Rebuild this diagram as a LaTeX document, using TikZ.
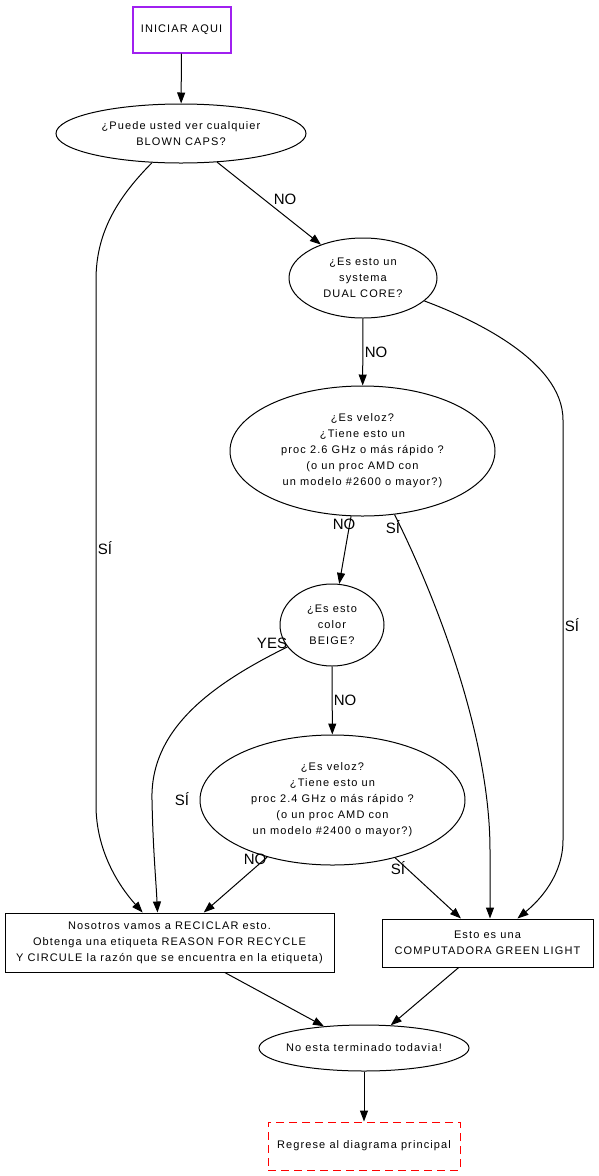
\documentclass[tikz,border=0pt]{standalone}
\usepackage{fontspec}
\setmainfont{Liberation Sans}
\newfontfamily\nodefont[LetterSpace=10]{Liberation Sans}
\usetikzlibrary{shapes.geometric,arrows.meta,positioning}
\definecolor{gvpurple}{HTML}{A020F0}
\definecolor{gvred}{HTML}{FF0000}
\begin{document}
\begin{tikzpicture}[x=1pt,y=-1pt,
  txt/.style={font=\nodefont\fontsize{11}{16}\selectfont,align=center,inner sep=0pt},
  ell/.style={txt,draw,ellipse,line width=1pt},
  box/.style={txt,draw,rectangle,line width=1pt},
  arr/.style={line width=1pt,-{Triangle[length=11pt,width=8pt]}},
  lab/.style={font=\fontsize{15}{16}\selectfont,inner sep=0pt}]
\useasboundingbox (0,0) rectangle (599,1176);
\fill[white] (0,0) rectangle (599,1176);
% nodes
\node[box,draw=gvpurple,line width=2pt,minimum width=98pt,minimum height=46pt] (start) at (181.5,29.5) {INICIAR AQUI};
\node[ell,minimum width=250pt,minimum height=59pt] (e1) at (181,133.5) {¿Puede usted ver cualquier\\BLOWN CAPS?};
\node[ell,minimum width=148pt,minimum height=80pt] (e2) at (363,278) {¿Es esto un\\systema\\DUAL CORE?};
\node[ell,minimum width=265pt,minimum height=130pt] (e3) at (362.5,451) {¿Es veloz?\\¿Tiene esto un\\proc 2.6 GHz o más rápido ?\\(o un proc AMD con\\un modelo \#2600 o mayor?)};
\node[ell,minimum width=104pt,minimum height=82pt] (e4) at (332,625) {¿Es esto\\color\\BEIGE?};
\node[ell,minimum width=265pt,minimum height=130pt] (e5) at (332.5,800) {¿Es veloz?\\¿Tiene esto un\\proc 2.4 GHz o más rápido ?\\(o un proc AMD con\\un modelo \#2400 o mayor?)};
\node[box,minimum width=329pt,minimum height=59pt] (rec) at (169.5,942.5) {Nosotros vamos a RECICLAR esto.\\Obtenga una etiqueta REASON FOR RECYCLE\\Y CIRCULE la razón que se encuentra en la etiqueta)};
\node[box,minimum width=211pt,minimum height=48pt] (grn) at (487.5,943) {Esto es una\\COMPUTADORA GREEN LIGHT};
\node[ell,inner xsep=-22pt,minimum width=210pt,minimum height=46pt] (e6) at (364,1048) {No esta terminado todavia!};
\node[box,draw=gvred,dash pattern=on 8pt off 5pt,minimum width=192pt,minimum height=48pt] (end) at (364,1146) {Regrese al diagrama principal};
% edges
\draw[arr] (start) -- (e1);
\draw[arr] (e1) -- (e2);
\node[lab] (l1) at (285,199) {NO};
\draw[arr] (e1) .. controls (115,200) and (96,235) .. (96,280) -- (96,805) .. controls (96,850) and (118,885) .. (rec);
\node[lab] (l2) at (105,548) {SÍ};
\draw[arr] (e2) -- (e3);
\node[lab] (l3) at (376,352) {NO};
\draw[arr] (e2) .. controls (470,318) and (563,360) .. (563,420) -- (563,840) .. controls (563,875) and (540,900) .. (grn);
\node[lab] (l4) at (572,625) {SÍ};
\draw[arr] (e3) -- (e4);
\node[lab] (l5) at (344,524) {NO};
\draw[arr] (e3) .. controls (430,585) and (490,730) .. (490,850) -- ([xshift=2.5pt]grn.north);
\node[lab] (l6) at (393,527) {SÍ};
\draw[arr] (e4) -- (e5);
\node[lab] (l7) at (345,700) {NO};
\draw[arr] (e4) .. controls (210,685) and (150,730) .. (152,800) .. controls (153,850) and (156,880) .. ([xshift=-12pt]rec.north);
\node[lab] (l8) at (272,643) {YES};
\node[lab] (l9) at (182,799) {SÍ};
\draw[arr] (e5) -- (rec);
\node[lab] (l10) at (255,859) {NO};
\draw[arr] (e5) -- (grn);
\node[lab] (l11) at (398,868) {SÍ};
\draw[arr] (rec) -- (e6);
\draw[arr] (grn) -- (e6);
\draw[arr] (e6) -- (end);
\end{tikzpicture}
\end{document}
